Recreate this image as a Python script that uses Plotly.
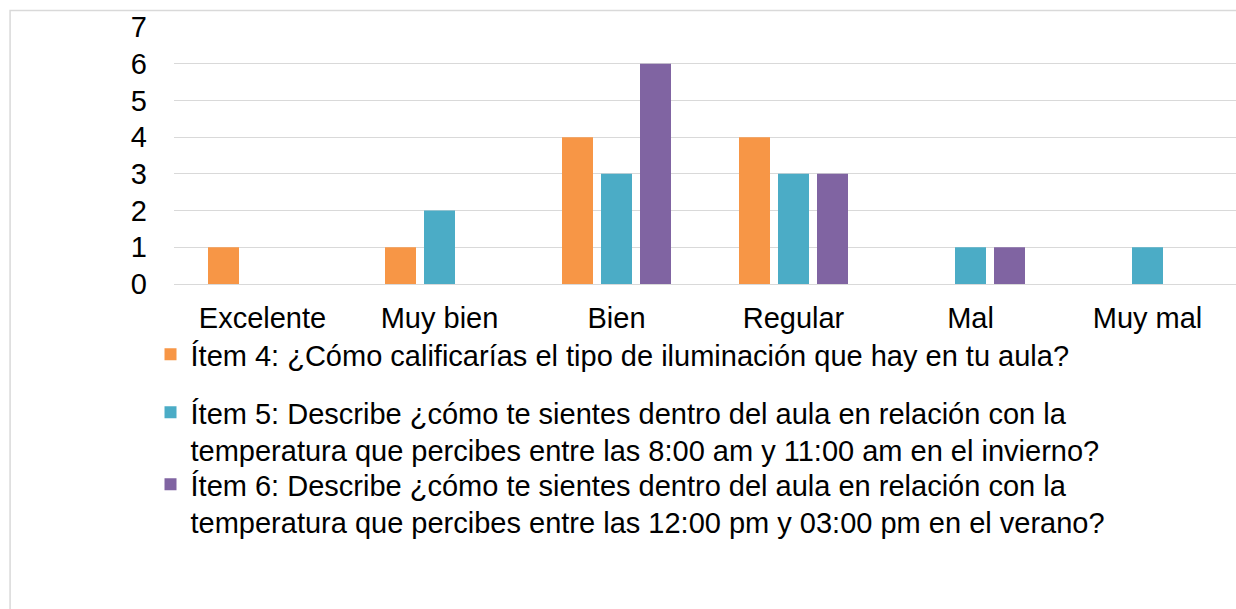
import plotly.graph_objects as go

# Survey answers per rating category
categories = ["Excelente", "Muy bien", "Bien", "Regular", "Mal", "Muy mal"]
item4 = [1, 1, 4, 4, 0, 0]
item5 = [0, 2, 3, 3, 1, 1]
item6 = [0, 0, 6, 3, 1, 0]

names = [
    "Ítem 4: ¿Cómo calificarías el tipo de iluminación que hay en tu aula?",
    "Ítem 5: Describe ¿cómo te sientes dentro del aula en relación con la<br>"
    "temperatura que percibes entre las 8:00 am y 11:00 am en el invierno?",
    "Ítem 6: Describe ¿cómo te sientes dentro del aula en relación con la<br>"
    "temperatura que percibes entre las 12:00 pm y 03:00 pm en el verano?",
]
colors = ["#F79646", "#4BACC6", "#8064A2"]
y_ticks = list(range(0, 8))

FONT = "Liberation Sans, Arial, sans-serif"
FS = 29

W, H = 1236, 609
ML, MR, MT, MB = 173.5, 0, 27, 325
PW = W - ML - MR
PH = H - MT - MB


def px_x(x):
    return (x - ML) / PW


def px_y(y):
    return (H - MB - y) / PH


fig = go.Figure()
legends = ["legend", "legend2", "legend3"]
for vals, name, color, lg in zip([item4, item5, item6], names, colors, legends):
    fig.add_trace(go.Bar(
        x=categories, y=vals, name=name, marker_color=color,
        marker_line_width=0, legend=lg,
    ))

legend_common = dict(
    font=dict(family=FONT, size=FS, color="#000000"),
    bgcolor="rgba(0,0,0,0)", borderwidth=0,
    xanchor="left", yanchor="top", valign="top",
    itemwidth=30, itemclick=False, itemdoubleclick=False,
)

fig.update_layout(
    width=W, height=H,
    margin=dict(l=ML, r=MR, t=MT, b=MB, pad=0),
    paper_bgcolor="white", plot_bgcolor="white",
    font=dict(family=FONT, size=FS, color="#000000"),
    barmode="group", bargap=0.339, bargroupgap=0.205,
    showlegend=True,
    legend=dict(x=px_x(150), y=px_y(329), **legend_common),
    legend2=dict(x=px_x(150), y=px_y(387), **legend_common),
    legend3=dict(x=px_x(150), y=px_y(459), **legend_common),
    xaxis=dict(
        showgrid=False, showline=False, zeroline=False,
        ticks="", ticklabelstandoff=14,
        tickfont=dict(family=FONT, size=FS, color="#000000"),
    ),
    yaxis=dict(
        range=[0, 7], tickvals=y_ticks, ticktext=[str(v) for v in y_ticks],
        showgrid=True, gridcolor="#D9D9D9", gridwidth=1.3,
        zeroline=True, zerolinecolor="#D9D9D9", zerolinewidth=1.3,
        showline=False, ticks="", ticklabelstandoff=26,
        tickfont=dict(family=FONT, size=FS, color="#000000"),
    ),
    shapes=[dict(
        type="rect", xref="paper", yref="paper",
        x0=px_x(9.5), x1=px_x(1300), y0=px_y(700), y1=px_y(10.5),
        line=dict(color="#D9D9D9", width=1.5), fillcolor="rgba(0,0,0,0)",
        layer="below",
    )],
)

fig.write_html("out.html")
